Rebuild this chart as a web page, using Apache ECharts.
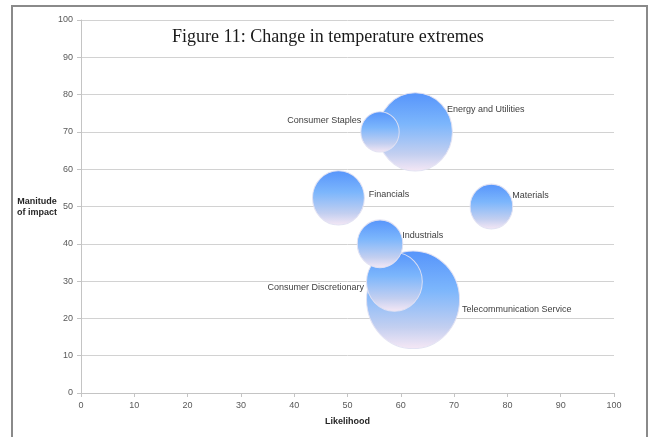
<!DOCTYPE html>
<html>
<head>
<meta charset="utf-8">
<script src="https://cdn.jsdelivr.net/npm/echarts@6/dist/echarts.min.js"></script>
<style>
html,body{margin:0;padding:0;background:#fff;}
#chart{width:654px;height:437px;}
</style>
</head>
<body>
<div id="chart"></div>
<script>
// ---- data ----
var sectors = ["Telecommunication Service", "Energy and Utilities", "Consumer Discretionary", "Financials", "Industrials", "Materials", "Consumer Staples"];
var likelihood = [62.3, 62.7, 58.8, 48.3, 56.1, 77.0, 56.1];
var impact = [25.0, 70.0, 29.8, 52.3, 40.0, 50.0, 70.0];
var bubbleSize = [100, 64, 36, 31, 24, 21, 17];
var xTicks = [0, 10, 20, 30, 40, 50, 60, 70, 80, 90, 100];
var yTicks = [0, 10, 20, 30, 40, 50, 60, 70, 80, 90, 100];
var xAxisTitle = 'Likelihood';
var yAxisTitle = 'Manitude\nof impact';

// ---- label placement (style only) ----
var labelPlacement = {
  "Telecommunication Service": {position: "right", offset: [-3, 10]},
  "Energy and Utilities": {position: "right", offset: [-11, -22]},
  "Consumer Discretionary": {position: "left", offset: [3, 6]},
  "Financials": {position: "right", offset: [-1, -3]},
  "Industrials": {position: "right", offset: [-6, -8]},
  "Materials": {position: "right", offset: [-6, -11]},
  "Consumer Staples": {position: "left", offset: [6, -11]}
};

var chart = echarts.init(document.getElementById('chart'));
var data = sectors.map(function (n, i) {
  var lp = labelPlacement[n];
  return {
    name: n,
    value: [likelihood[i], impact[i], bubbleSize[i]],
    label: {position: lp.position, offset: lp.offset}
  };
});

var fillGrad = new echarts.graphic.LinearGradient(0, 0, 0, 1, [
  {offset: 0, color: '#5694fb'},
  {offset: 0.4, color: '#7cb6fc'},
  {offset: 0.78, color: '#c3cff0'},
  {offset: 1, color: '#f6e8f5'}
]);

var axisGray = '#c4c4c4';
var labelStyle = {color: '#595959', fontSize: 9, fontFamily: 'Liberation Sans'};

chart.setOption({
  animation: false,
  title: {
    text: 'Figure 11: Change in temperature extremes',
    left: 172, top: 28, padding: 0,
    textStyle: {fontFamily: 'Liberation Serif', fontSize: 18, fontWeight: 'normal', color: '#1a1a1a'}
  },
  graphic: [{
    type: 'rect', silent: true, z: 100,
    shape: {x: 12, y: 6, width: 635, height: 445},
    style: {fill: 'none', stroke: '#8a8a8a', lineWidth: 2}
  }, {
    type: 'text', silent: true, x: 37, y: 207,
    style: {
      text: yAxisTitle, fill: '#262626', font: 'bold 9px "Liberation Sans"',
      align: 'center', verticalAlign: 'middle', lineHeight: 11
    }
  }],
  grid: {left: 81, right: 40, top: 20, bottom: 44, containLabel: false},
  xAxis: {
    type: 'value', min: 0, max: 100, interval: 10,
    name: xAxisTitle, nameLocation: 'middle', nameGap: 24,
    nameTextStyle: {color: '#262626', fontSize: 9, fontWeight: 'bold', fontFamily: 'Liberation Sans'},
    axisLine: {show: true, lineStyle: {color: axisGray}},
    axisTick: {show: true, inside: false, length: 4, lineStyle: {color: axisGray}},
    axisLabel: Object.assign({margin: 8, formatter: function (v) { return xTicks.indexOf(v) >= 0 ? String(v) : ''; }}, labelStyle),
    splitLine: {show: false}
  },
  yAxis: {
    type: 'value', min: 0, max: 100, interval: 10,
    axisLine: {show: true, lineStyle: {color: axisGray}},
    axisTick: {show: true, inside: false, length: 4, lineStyle: {color: axisGray}},
    axisLabel: Object.assign({margin: 8, formatter: function (v) { return yTicks.indexOf(v) >= 0 ? String(v) : ''; }}, labelStyle),
    splitLine: {show: true, lineStyle: {color: '#d2d2d2', width: 1}}
  },
  series: [{
    type: 'scatter',
    data: data,
    symbol: 'circle',
    symbolSize: function (val) {
      var w = 9.3 * Math.sqrt(val[2]);
      return [w, w * 1.05];
    },
    itemStyle: {color: fillGrad, borderColor: 'rgba(225,225,242,0.95)', borderWidth: 1, opacity: 1},
    label: {
      show: true,
      formatter: '{b}',
      distance: 5,
      color: '#404040', fontSize: 9, fontFamily: 'Liberation Sans'
    },
    emphasis: {disabled: true}
  }]
});
</script>
</body>
</html>
